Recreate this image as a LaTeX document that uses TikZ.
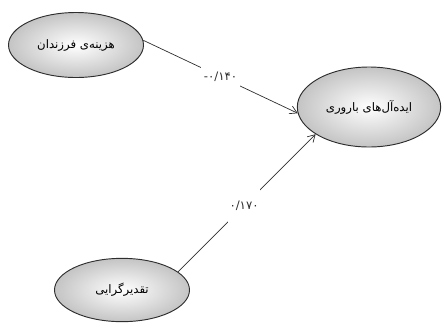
\documentclass[tikz,border=0pt]{standalone}
\usepackage{fontspec}
\newfontfamily\arabicfont[Script=Arabic]{DejaVu Sans}
\newfontfamily\digitfont{DejaVu Sans}
\TeXXeTstate=1
\usepackage{tikz}
\usetikzlibrary{shapes.geometric, arrows.meta, calc, positioning}
\tikzset{>={Straight Barb[length=6pt,width=7pt]}}
\definecolor{myline}{HTML}{2E2E2E}
\definecolor{myshade}{HTML}{C4C4C4}
\tikzset{
	oval/.style={ellipse, draw=myline, thick, inner color=white, outer color=myshade, font=\arabicfont\normalsize},
	coef/.style={fill=white, font=\digitfont\normalsize, inner sep=1pt}
}

\begin{document}
\begin{tikzpicture}[x=0.03cm, y=-0.03cm]
				\useasboundingbox (0,0) rectangle (444,327);
				\node[oval, minimum width=4.05cm, minimum height=1.95cm] (cost) at (76,45) {\beginR هزینه‌ی فرزندان\endR};
				\node[oval, minimum width=4.3cm, minimum height=2.4cm] (ideal) at (369,107) {\beginR ایده‌آل‌های باروری\endR};
				\node[oval, minimum width=4.05cm, minimum height=1.9cm] (fate) at (122,290) {\beginR تقدیرگرایی\endR};
				\draw [myline, semithick, ->] (cost.4) -- node[coef, inner xsep=2pt, minimum height=0.75cm]{-۰/۱۴۰} (ideal.185);
				\draw [myline, semithick, ->] (fate.18) -- node[coef, pos=0.48, minimum height=1.6cm]{۰/۱۷۰} (ideal.207);
			\end{tikzpicture}
\end{document}
